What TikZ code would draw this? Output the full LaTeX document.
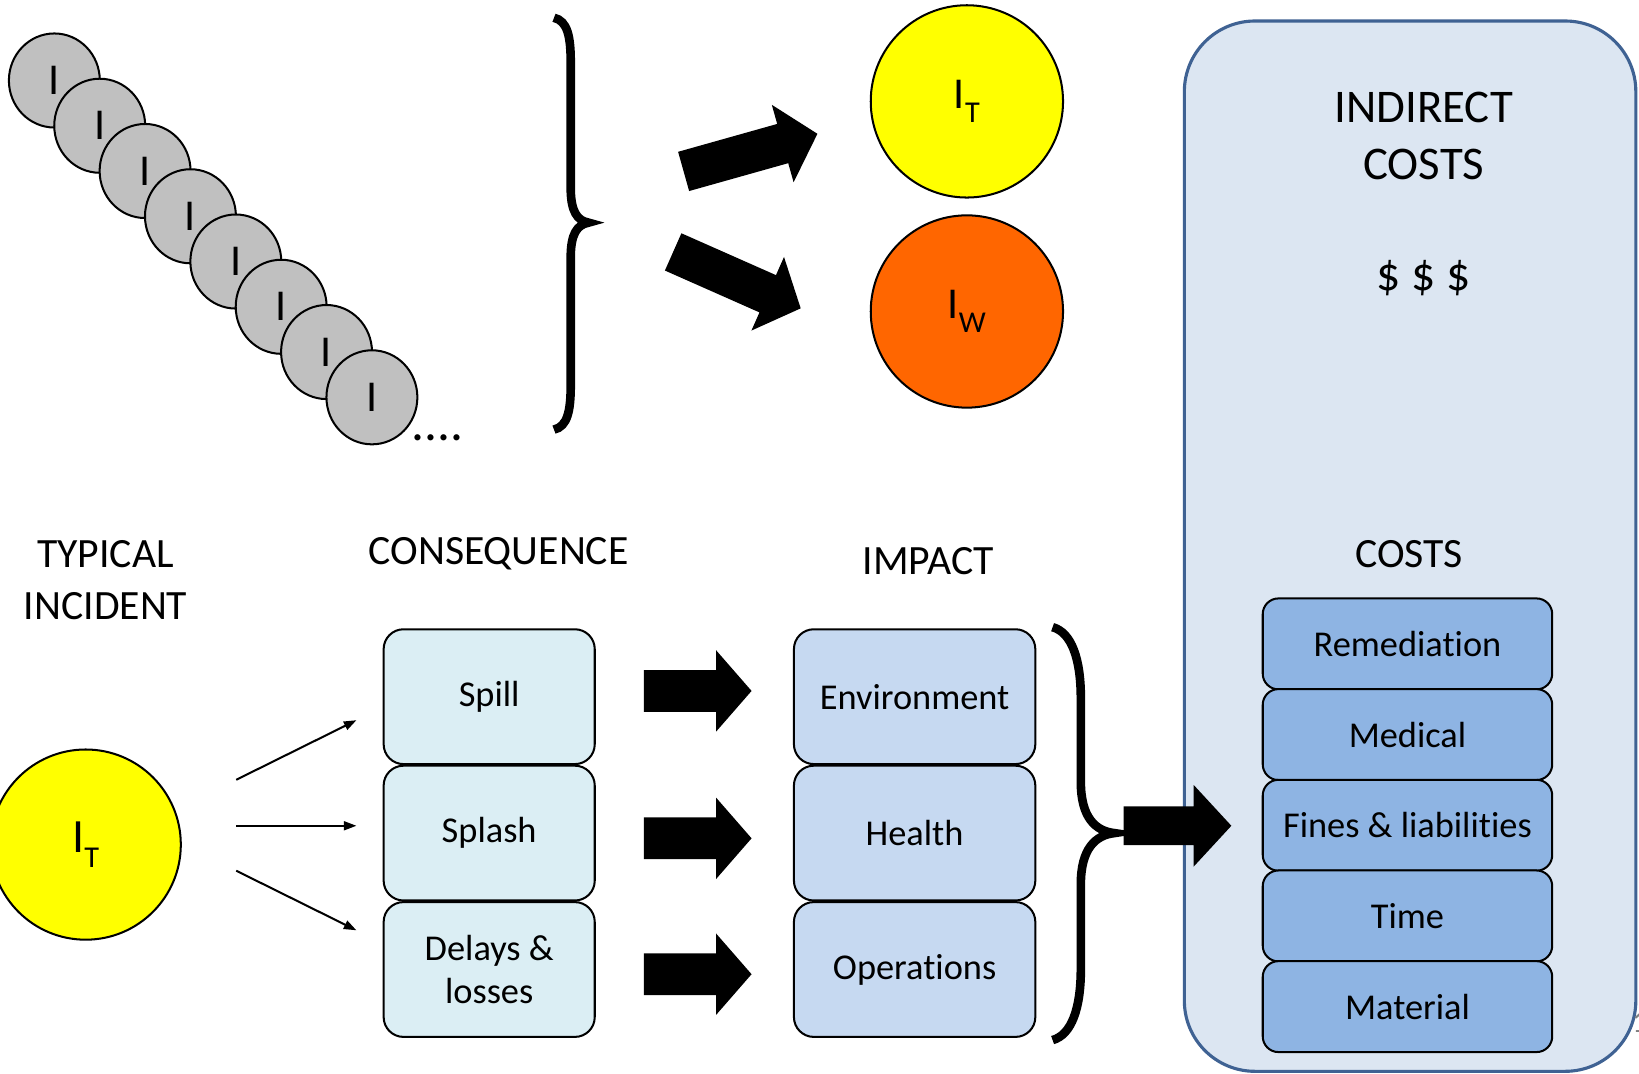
\documentclass[tikz,border=0pt]{standalone}
\usepackage{fontspec}
\setmainfont{Carlito}[Ligatures=NoCommon]
\usetikzlibrary{calc,arrows.meta,shapes.geometric}
\definecolor{grayF}{HTML}{C0C0C0}
\definecolor{yel}{HTML}{FFFF00}
\definecolor{org}{HTML}{FF6600}
\definecolor{conF}{HTML}{DBEEF4}
\definecolor{impF}{HTML}{C6D9F1}
\definecolor{costF}{HTML}{8EB4E3}
\definecolor{bigF}{HTML}{DCE6F2}
\definecolor{bigB}{HTML}{3F6293}
\newcommand{\Isub}[1]{I\raisebox{-0.32em}{\fontsize{16.5}{16.5}\selectfont #1}}
% block arrow: start, end, shaft half width, head half width, head length
\newcommand{\blkarrow}[5]{%
  \path ($(#2)!#5!(#1)$) coordinate (hb);
  \fill[black] ($(#1)!#3!90:(#2)$) -- ($(hb)!#3!-90:(#1)$) -- ($(hb)!#4!-90:(#1)$)
    -- (#2) -- ($(hb)!#4!90:(#1)$) -- ($(hb)!#3!90:(#1)$) -- ($(#1)!#3!-90:(#2)$) -- cycle;}
\begin{document}
\begin{tikzpicture}[x=0.02cm,y=-0.02cm,
 gcirc/.style={ellipse, draw, line width=1.1pt, fill=grayF, minimum width=1.74cm, minimum height=1.8cm, inner sep=0pt, font=\fontsize{24}{24}\selectfont},
 bigcirc/.style={circle, draw, line width=1.1pt, minimum size=3.68cm, inner sep=0pt, font=\fontsize{24}{24}\selectfont},
 hd/.style={align=center, inner sep=0pt, font=\fontsize{22.7}{27.8}\selectfont},
 rbox/.style={draw, line width=1.1pt, rounded corners=0.38cm, align=center, inner sep=0pt, font=\fontsize{19.8}{23.5}\selectfont},
 conbox/.style={rbox, fill=conF, minimum width=4.04cm, minimum height=2.58cm},
 impbox/.style={rbox, fill=impF, minimum width=4.62cm, minimum height=2.58cm},
 costbox/.style={rbox, rounded corners=0.3cm, fill=costF, minimum width=5.54cm, minimum height=1.74cm},
 bigbox/.style={draw=bigB, line width=1.7pt, fill=bigF, rounded corners=1.35cm, minimum width=8.64cm, minimum height=20.1cm, inner sep=0pt},
 thinarrow/.style={line width=1.1pt, -{Triangle[length=0.24cm,width=0.17cm]}},
 bracestyle/.style={line width=0.165cm},
]
\useasboundingbox (0,0) rectangle (1568,1027);
\fill[white] (0,0) rectangle (1568,1027);

% ---- indirect costs panel
\node[bigbox] (ind) at (1349,522.5) {};
\node[hd, font=\fontsize{25.5}{30.6}\selectfont] (indt) at (1362,130) {INDIRECT\\COSTS};
\node[hd, font=\fontsize{26}{30.6}\selectfont] (dol) at (1362,266) {\$ \$ \$};
\node[hd] (costs) at (1348,530) {COSTS};
\node[costbox] (rem) at (1346.5,616) {Remediation};
\node[costbox] (med) at (1346.5,702.75) {Medical};
\node[costbox] (fin) at (1346.5,789.5) {Fines \& liabilities};
\node[costbox] (tim) at (1346.5,876.25) {Time};
\node[costbox] (mat) at (1346.5,963) {Material};

% ---- chain of incidents
\foreach \k in {0,...,7} {
  \node[gcirc] (g\k) at ({52+43.4*\k},{77+43.3*\k}) {I\hspace{0.24cm}};
}
\node[anchor=base west, inner sep=0pt, font=\fontsize{28}{28}\selectfont] (dots) at (393,421) {....};

% top brace
\draw[bracestyle] (530,17) .. controls (543,20) and (546,35) .. (546,60) -- (546,180)
  .. controls (546,202) and (552,211) .. (563,213)
  .. controls (552,215) and (546,224) .. (546,246) -- (546,368)
  .. controls (546,393) and (543,408) .. (530,411);

% top circles
\node[bigcirc, fill=yel] (itop) at (925,97) {\Isub{T}};
\node[bigcirc, fill=org] (iw) at (925,298) {\Isub{W}};

% top block arrows
\coordinate (ua1) at (654,164);
\coordinate (ua1e) at (782,128);
\coordinate (ua2) at (644,241);
\coordinate (ua2e) at (766,295);
\blkarrow{ua1}{ua1e}{0.39cm}{0.77cm}{0.69cm}
\blkarrow{ua2}{ua2e}{0.39cm}{0.77cm}{0.69cm}

% ---- bottom part
\node[hd] (typ) at (101,555) {TYPICAL\\INCIDENT};
\node[hd] (cons) at (477,530) {CONSEQUENCE};
\node[hd] (imp) at (888,537) {IMPACT};

\node[bigcirc, fill=yel, minimum size=3.64cm, font=\fontsize{26}{26}\selectfont] (ibot) at (82,808) {\Isub{T}};

\node[conbox] (spill) at (468,666.5) {\raisebox{-3pt}{Spill}};
\node[conbox] (splash) at (468,797) {\raisebox{-2pt}{Splash}};
\node[conbox] (delays) at (468,927.5) {Delays \&\\losses};

\node[impbox] (env) at (875,666.5) {Environment};
\node[impbox] (health) at (875,797) {Health};
\node[impbox] (ops) at (875,927.5) {\raisebox{-2pt}{Operations}};

% thin arrows
\coordinate (t1) at (226,746);
\coordinate (t1e) at (341,689);
\coordinate (t2) at (226,790);
\coordinate (t2e) at (341,790);
\coordinate (t3) at (226,833);
\coordinate (t3e) at (341,890);
\draw[thinarrow] (t1) -- (t1e);
\draw[thinarrow] (t2) -- (t2e);
\draw[thinarrow] (t3) -- (t3e);

% consequence -> impact block arrows
\coordinate (m1) at (616,661);
\coordinate (m1e) at (719,661);
\coordinate (m2) at (616,802);
\coordinate (m2e) at (719,802);
\coordinate (m3) at (616,932);
\coordinate (m3e) at (719,932);
\blkarrow{m1}{m1e}{0.4cm}{0.78cm}{0.68cm}
\blkarrow{m2}{m2e}{0.4cm}{0.78cm}{0.68cm}
\blkarrow{m3}{m3e}{0.4cm}{0.78cm}{0.68cm}

% bottom brace
\draw[bracestyle] (1007,600) .. controls (1025,605) and (1034,630) .. (1034,668) -- (1034,748)
  .. controls (1034,782) and (1048,795) .. (1066,797)
  .. controls (1048,799) and (1034,812) .. (1034,846) -- (1034,927)
  .. controls (1034,965) and (1025,990) .. (1007,995);

% arrow into costs
\coordinate (b1) at (1075,790);
\coordinate (b1e) at (1178,790);
\blkarrow{b1}{b1e}{0.37cm}{0.78cm}{0.72cm}

% page number fragment
\node[anchor=west, inner sep=0pt, text=gray, font=\fontsize{17}{17}\selectfont] (pg) at (1561,978) {1};
\end{tikzpicture}
\end{document}
